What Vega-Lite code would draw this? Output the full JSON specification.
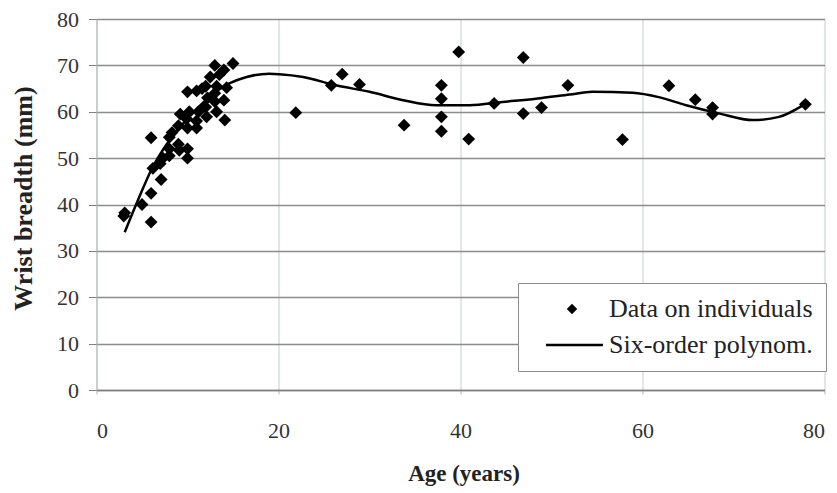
{
  "$schema": "https://vega.github.io/schema/vega-lite/v6.json",
  "width": 728,
  "height": 371,
  "autosize": {"type": "none"},
  "padding": {"left": 96.5, "top": 19, "right": 12.5, "bottom": 103},
  "background": "white",
  "config": {"view": {"stroke": null}, "font": "Liberation Serif"},
  "layer": [
    {
      "data": {"values": [
        {"age": 3, "wb": 37.5, "series": "Data on individuals"},
        {"age": 3.1, "wb": 38.2, "series": "Data on individuals"},
        {"age": 5, "wb": 40, "series": "Data on individuals"},
        {"age": 6, "wb": 36.2, "series": "Data on individuals"},
        {"age": 6, "wb": 42.4, "series": "Data on individuals"},
        {"age": 6.2, "wb": 47.8, "series": "Data on individuals"},
        {"age": 6, "wb": 54.4, "series": "Data on individuals"},
        {"age": 7.1, "wb": 45.4, "series": "Data on individuals"},
        {"age": 7.3, "wb": 50, "series": "Data on individuals"},
        {"age": 7, "wb": 48.8, "series": "Data on individuals"},
        {"age": 8, "wb": 50.5, "series": "Data on individuals"},
        {"age": 8, "wb": 52, "series": "Data on individuals"},
        {"age": 8, "wb": 54.5, "series": "Data on individuals"},
        {"age": 8.3, "wb": 55.5, "series": "Data on individuals"},
        {"age": 9.1, "wb": 51.7, "series": "Data on individuals"},
        {"age": 9, "wb": 53, "series": "Data on individuals"},
        {"age": 9, "wb": 57, "series": "Data on individuals"},
        {"age": 9.2, "wb": 59.5, "series": "Data on individuals"},
        {"age": 10, "wb": 50, "series": "Data on individuals"},
        {"age": 10, "wb": 52, "series": "Data on individuals"},
        {"age": 9.9, "wb": 58.5, "series": "Data on individuals"},
        {"age": 10, "wb": 56.5, "series": "Data on individuals"},
        {"age": 10.2, "wb": 60, "series": "Data on individuals"},
        {"age": 10, "wb": 64.3, "series": "Data on individuals"},
        {"age": 11, "wb": 56.5, "series": "Data on individuals"},
        {"age": 11, "wb": 58, "series": "Data on individuals"},
        {"age": 11.2, "wb": 60, "series": "Data on individuals"},
        {"age": 11, "wb": 64.5, "series": "Data on individuals"},
        {"age": 11.6, "wb": 65, "series": "Data on individuals"},
        {"age": 12.1, "wb": 58.9, "series": "Data on individuals"},
        {"age": 12, "wb": 61, "series": "Data on individuals"},
        {"age": 12.2, "wb": 63, "series": "Data on individuals"},
        {"age": 12, "wb": 65.5, "series": "Data on individuals"},
        {"age": 12.5, "wb": 67.5, "series": "Data on individuals"},
        {"age": 13.2, "wb": 60, "series": "Data on individuals"},
        {"age": 13, "wb": 62.2, "series": "Data on individuals"},
        {"age": 13, "wb": 64, "series": "Data on individuals"},
        {"age": 13.2, "wb": 65.5, "series": "Data on individuals"},
        {"age": 13.5, "wb": 68, "series": "Data on individuals"},
        {"age": 13, "wb": 70, "series": "Data on individuals"},
        {"age": 14.1, "wb": 58.2, "series": "Data on individuals"},
        {"age": 14, "wb": 62.5, "series": "Data on individuals"},
        {"age": 14.3, "wb": 65.2, "series": "Data on individuals"},
        {"age": 14, "wb": 69, "series": "Data on individuals"},
        {"age": 15, "wb": 70.4, "series": "Data on individuals"},
        {"age": 21.9, "wb": 59.8, "series": "Data on individuals"},
        {"age": 25.8, "wb": 65.7, "series": "Data on individuals"},
        {"age": 27, "wb": 68.1, "series": "Data on individuals"},
        {"age": 28.9, "wb": 65.9, "series": "Data on individuals"},
        {"age": 33.8, "wb": 57.1, "series": "Data on individuals"},
        {"age": 37.9, "wb": 65.7, "series": "Data on individuals"},
        {"age": 37.9, "wb": 62.8, "series": "Data on individuals"},
        {"age": 37.9, "wb": 58.9, "series": "Data on individuals"},
        {"age": 37.9, "wb": 55.8, "series": "Data on individuals"},
        {"age": 39.8, "wb": 72.9, "series": "Data on individuals"},
        {"age": 40.9, "wb": 54.1, "series": "Data on individuals"},
        {"age": 43.7, "wb": 61.8, "series": "Data on individuals"},
        {"age": 46.9, "wb": 71.7, "series": "Data on individuals"},
        {"age": 46.9, "wb": 59.6, "series": "Data on individuals"},
        {"age": 48.9, "wb": 60.9, "series": "Data on individuals"},
        {"age": 51.8, "wb": 65.7, "series": "Data on individuals"},
        {"age": 57.8, "wb": 54, "series": "Data on individuals"},
        {"age": 62.9, "wb": 65.6, "series": "Data on individuals"},
        {"age": 65.8, "wb": 62.6, "series": "Data on individuals"},
        {"age": 67.7, "wb": 60.9, "series": "Data on individuals"},
        {"age": 67.7, "wb": 59.5, "series": "Data on individuals"},
        {"age": 77.9, "wb": 61.6, "series": "Data on individuals"}
      ]},
      "mark": {"type": "point", "filled": true, "color": "black", "opacity": 1, "size": 165},
      "encoding": {
        "x": {
          "field": "age", "type": "quantitative",
          "scale": {"domain": [0, 80], "nice": false},
          "axis": {
            "values": [0, 20, 40, 60, 80],
            "grid": true, "gridColor": "#c3cdd1", "gridWidth": 1,
            "domainColor": "#808080", "domainWidth": 1.3,
            "tickColor": "#b0b8bb", "tickSize": 4,
            "labelFont": "Liberation Serif", "labelFontSize": 22, "labelColor": "#333333",
            "labelPadding": 26,
            "title": "Age (years)",
            "titleFont": "Liberation Serif", "titleFontSize": 23, "titleFontWeight": "bold", "titleColor": "#222222",
            "titleX": 367, "titleY": 90, "titleBaseline": "alphabetic", "titleAlign": "center"
          }
        },
        "y": {
          "field": "wb", "type": "quantitative",
          "scale": {"domain": [0, 80], "nice": false},
          "axis": {
            "values": [0, 10, 20, 30, 40, 50, 60, 70, 80],
            "grid": true, "gridColor": "#8c8c8c", "gridWidth": 1.3,
            "domainColor": "#b0b8bb", "domainWidth": 1,
            "tickColor": "#808080", "tickSize": 8,
            "labelFont": "Liberation Serif", "labelFontSize": 22, "labelColor": "#333333",
            "labelPadding": 10,
            "title": "Wrist breadth (mm)",
            "titleFont": "Liberation Serif", "titleFontSize": 26, "titleFontWeight": "bold", "titleColor": "#222222",
            "titleAngle": -90, "titleX": -73, "titleY": 179, "titleBaseline": "middle", "titleAlign": "center"
          }
        },
        "shape": {
          "field": "series", "type": "nominal",
          "scale": {"domain": ["Data on individuals", "Six-order polynom."], "range": ["diamond", "M-4.96,-0.25H5.9V0.25H-4.96Z"]},
          "legend": {
            "orient": "none", "legendX": 421.5, "legendY": 264,
            "title": null,
            "fillColor": "white", "strokeColor": "#8c8c8c",
            "padding": 13,
            "labelFont": "Liberation Serif", "labelFontSize": 26, "labelColor": "#222222",
            "labelLimit": 500,
            "symbolOffset": 28,
            "labelOffset": 24, "rowPadding": 10,
            "symbolSize": 110,
            "encode": {"symbols": {"update": {"fill": {"value": "black"}, "opacity": {"value": 1}, "strokeWidth": {"value": 0}}}}
          }
        }
      }
    },
    {
      "data": {"values": [
        {"age": 3.1, "wb": 34},
        {"age": 4.7, "wb": 41.6},
        {"age": 6, "wb": 47.4},
        {"age": 8, "wb": 53.8},
        {"age": 10.2, "wb": 58.9},
        {"age": 12.4, "wb": 63.2},
        {"age": 14.6, "wb": 66.1},
        {"age": 16.5, "wb": 67.5},
        {"age": 19, "wb": 68.2},
        {"age": 20.1, "wb": 68.1},
        {"age": 22.7, "wb": 67.5},
        {"age": 26.3, "wb": 65.7},
        {"age": 30, "wb": 64.3},
        {"age": 33.7, "wb": 62.5},
        {"age": 37.3, "wb": 61.4},
        {"age": 41, "wb": 61.4},
        {"age": 44.6, "wb": 62.1},
        {"age": 48.3, "wb": 62.8},
        {"age": 52, "wb": 63.7},
        {"age": 54.5, "wb": 64.3},
        {"age": 58.9, "wb": 64.1},
        {"age": 61.9, "wb": 63.1},
        {"age": 64.8, "wb": 61.4},
        {"age": 68.5, "wb": 59.6},
        {"age": 72.1, "wb": 58.2},
        {"age": 75, "wb": 58.9},
        {"age": 77.8, "wb": 61.6}
      ]},
      "mark": {"type": "line", "color": "black", "strokeWidth": 2.5, "interpolate": "monotone"},
      "encoding": {
        "x": {"field": "age", "type": "quantitative"},
        "y": {"field": "wb", "type": "quantitative"}
      }
    }
  ]
}
